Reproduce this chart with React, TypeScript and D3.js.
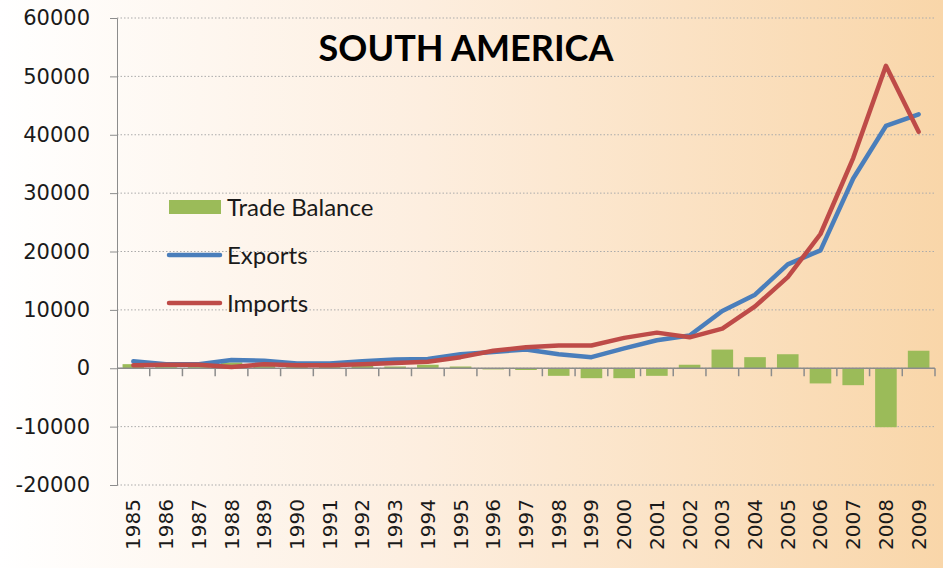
import React, { useEffect, useRef } from 'react';
import * as d3 from 'd3';

const years = [
  '1985', '1986', '1987', '1988', '1989', '1990', '1991', '1992', '1993', '1994',
  '1995', '1996', '1997', '1998', '1999', '2000', '2001', '2002', '2003', '2004',
  '2005', '2006', '2007', '2008', '2009',
];
const exportsData = [
  1200, 700, 700, 1400, 1300, 800, 800, 1200, 1500, 1600,
  2400, 2800, 3200, 2400, 1900, 3400, 4800, 5600, 9800, 12600,
  17800, 20200, 32500, 41500, 43500,
];
const importsData = [
  500, 600, 600, 200, 700, 500, 500, 700, 900, 1100,
  1900, 3000, 3600, 3900, 3900, 5200, 6100, 5300, 6800, 10600,
  15600, 23000, 36000, 51800, 40500,
];
const balanceData = [
  700, 200, 200, 1000, 600, 300, 300, 500, 300, 600,
  300, -200, -300, -1300, -1700, -1700, -1300, 600, 3200, 1900,
  2400, -2600, -2900, -10100, 3000,
];
const yTicks = [-20000, -10000, 0, 10000, 20000, 30000, 40000, 50000, 60000];

const W = 943;
const H = 568;

const App = () => {
  const svgRef = useRef<SVGSVGElement | null>(null);

  useEffect(() => {
    if (!svgRef.current) return;
    const svg = d3.select(svgRef.current);
    svg.selectAll('*').remove();

    const left = 117, right = 935, top = 18, bottom = 485;

    const x = d3.scaleBand().domain(years).range([left, right]).paddingInner(0.34).paddingOuter(0.17);
    const xb = d3.scaleBand().domain(years).range([left, right]);
    const y = d3.scaleLinear().domain([-20000, 60000]).range([bottom, top]);

    // background gradient
    const defs = svg.append('defs');
    const grad = defs.append('linearGradient').attr('id', 'bg').attr('x1', 0).attr('x2', 1).attr('y1', 0).attr('y2', 0);
    grad.append('stop').attr('offset', '0%').attr('stop-color', '#FFFFFF');
    grad.append('stop').attr('offset', '45%').attr('stop-color', '#FDEEDF');
    grad.append('stop').attr('offset', '100%').attr('stop-color', '#F9D6A9');
    svg.append('rect').attr('width', W).attr('height', H).attr('fill', 'url(#bg)');

    // gridlines
    svg.append('g').selectAll('line').data(yTicks).enter().append('line')
      .attr('x1', left).attr('x2', right)
      .attr('y1', d => y(d)).attr('y2', d => y(d))
      .attr('stroke', '#ABABAB').attr('stroke-width', 1).attr('stroke-dasharray', '1.5,2');

    // y axis
    const yAxis = d3.axisLeft(y).tickValues(yTicks).tickSize(7).tickPadding(20).tickFormat(d => String(d));
    const ga = svg.append('g').attr('transform', `translate(${left},0)`).call(yAxis);
    ga.select('.domain').attr('stroke', '#8C8C8C');
    ga.selectAll('.tick line').attr('stroke', '#8C8C8C');
    ga.selectAll('.tick text')
      .attr('fill', '#1A1A1A')
      .style('font-family', 'DejaVu Sans')
      .style('font-size', '21px');

    // bars
    svg.append('g').selectAll('rect').data(balanceData).enter().append('rect')
      .attr('x', (_, i) => x(years[i]) as number)
      .attr('width', x.bandwidth())
      .attr('y', d => y(Math.max(0, d)))
      .attr('height', d => Math.abs(y(d) - y(0)))
      .attr('fill', '#9BBB59');

    // category axis at zero
    const zero = y(0);
    svg.append('line').attr('x1', left).attr('x2', right).attr('y1', zero).attr('y2', zero)
      .attr('stroke', '#8C8C8C').attr('stroke-width', 1.5);
    const edges = years.map((yr) => (xb(yr) as number) + xb.bandwidth());
    svg.append('g').selectAll('line').data(edges).enter().append('line')
      .attr('x1', d => d).attr('x2', d => d).attr('y1', zero).attr('y2', zero + 8)
      .attr('stroke', '#8C8C8C').attr('stroke-width', 1.5);

    // year labels
    svg.append('g').selectAll('text').data(years).enter().append('text')
      .attr('transform', d => `translate(${(xb(d) as number) + xb.bandwidth() / 2 + 7},499) rotate(-90)`)
      .attr('text-anchor', 'end')
      .attr('fill', '#1A1A1A')
      .style('font-family', 'DejaVu Sans')
      .style('font-size', '20px')
      .text(d => d);

    // lines
    const cx = (i: number) => (xb(years[i]) as number) + xb.bandwidth() / 2;
    const line = d3.line<number>().x((_, i) => cx(i)).y(d => y(d));
    svg.append('path').datum(exportsData).attr('d', line).attr('fill', 'none')
      .attr('stroke', '#4A7EBB').attr('stroke-width', 4.5).attr('stroke-linejoin', 'round').attr('stroke-linecap', 'round');
    svg.append('path').datum(importsData).attr('d', line).attr('fill', 'none')
      .attr('stroke', '#BE4B48').attr('stroke-width', 4.5).attr('stroke-linejoin', 'round').attr('stroke-linecap', 'round');

    // title
    svg.append('text').attr('x', 466).attr('y', 61).attr('text-anchor', 'middle')
      .style('font-family', 'Lato').style('font-weight', 'bold').style('font-size', '36px')
      .attr('fill', '#000').text('SOUTH AMERICA');

    // legend
    const lg = svg.append('g').style('font-family', 'Lato').style('font-size', '24px');
    lg.append('rect').attr('x', 169).attr('y', 200).attr('width', 52).attr('height', 14).attr('fill', '#9BBB59');
    lg.append('text').attr('x', 227).attr('y', 216).attr('fill', '#1A1A1A').text('Trade Balance');
    lg.append('line').attr('x1', 169).attr('x2', 220).attr('y1', 255).attr('y2', 255)
      .attr('stroke', '#4A7EBB').attr('stroke-width', 4.5).attr('stroke-linecap', 'round');
    lg.append('text').attr('x', 227).attr('y', 264).attr('fill', '#1A1A1A').text('Exports');
    lg.append('line').attr('x1', 169).attr('x2', 220).attr('y1', 303).attr('y2', 303)
      .attr('stroke', '#BE4B48').attr('stroke-width', 4.5).attr('stroke-linecap', 'round');
    lg.append('text').attr('x', 227).attr('y', 312).attr('fill', '#1A1A1A').text('Imports');
  }, []);

  return (
    <svg ref={svgRef} width={W} height={H} style={{ position: 'absolute', left: 0, top: 0, display: 'block' }} />
  );
};

export default App;
